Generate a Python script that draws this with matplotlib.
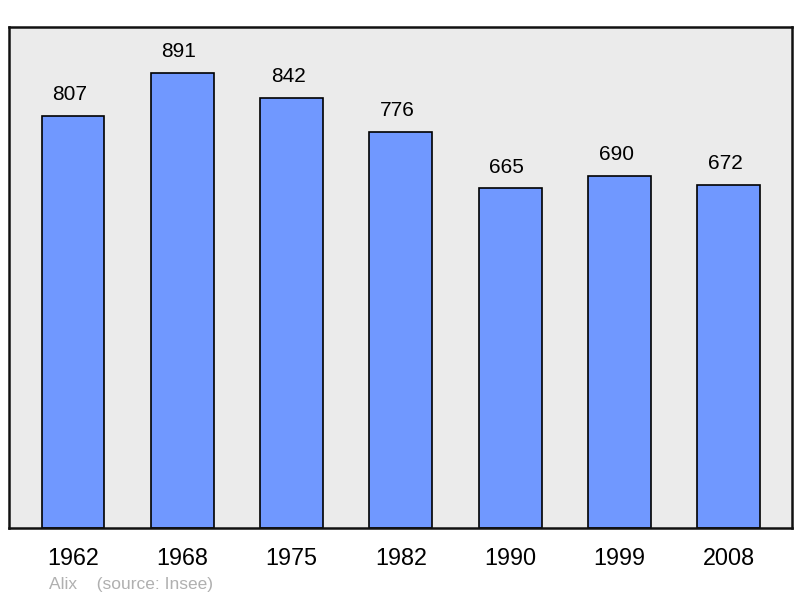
import matplotlib
matplotlib.use("Agg")
import matplotlib.pyplot as plt

years = ["1962", "1968", "1975", "1982", "1990", "1999", "2008"]
population = [807, 891, 842, 776, 665, 690, 672]

plt.rcParams['font.family'] = ['Liberation Sans', 'DejaVu Sans']

W, H = 800, 598
fig = plt.figure(figsize=(W / 100, H / 100), dpi=100)
ax = fig.add_axes([9 / W, (H - 528) / H, 783 / W, 501 / H])
ax.set_facecolor('#ebebeb')
x = list(range(len(years)))
ax.bar(x, population, width=0.575, color='#7098ff', edgecolor='black', linewidth=1.2, zorder=2)
ax.set_xlim(-0.5855, 6.578)
ax.set_ylim(0, 981)
for xi, v in zip(x, population):
    ax.annotate(str(v), (xi, v), xytext=(-3.5, 21), textcoords='offset pixels',
                ha='center', va='center', fontsize=15, color='black')
ax.set_xticks(x)
ax.set_xticklabels(years, fontsize=16.8)
ax.tick_params(axis='x', length=0, pad=14)
ax.set_yticks([])
for s in ax.spines.values():
    s.set_linewidth(1.8)
    s.set_color('#111111')
fig.text(49 / W, 1 - 584 / H, "Alix    (source: Insee)", fontsize=12.5, color='#b0b0b0',
         ha='left', va='center')
fig.savefig('out.png', dpi=100)
